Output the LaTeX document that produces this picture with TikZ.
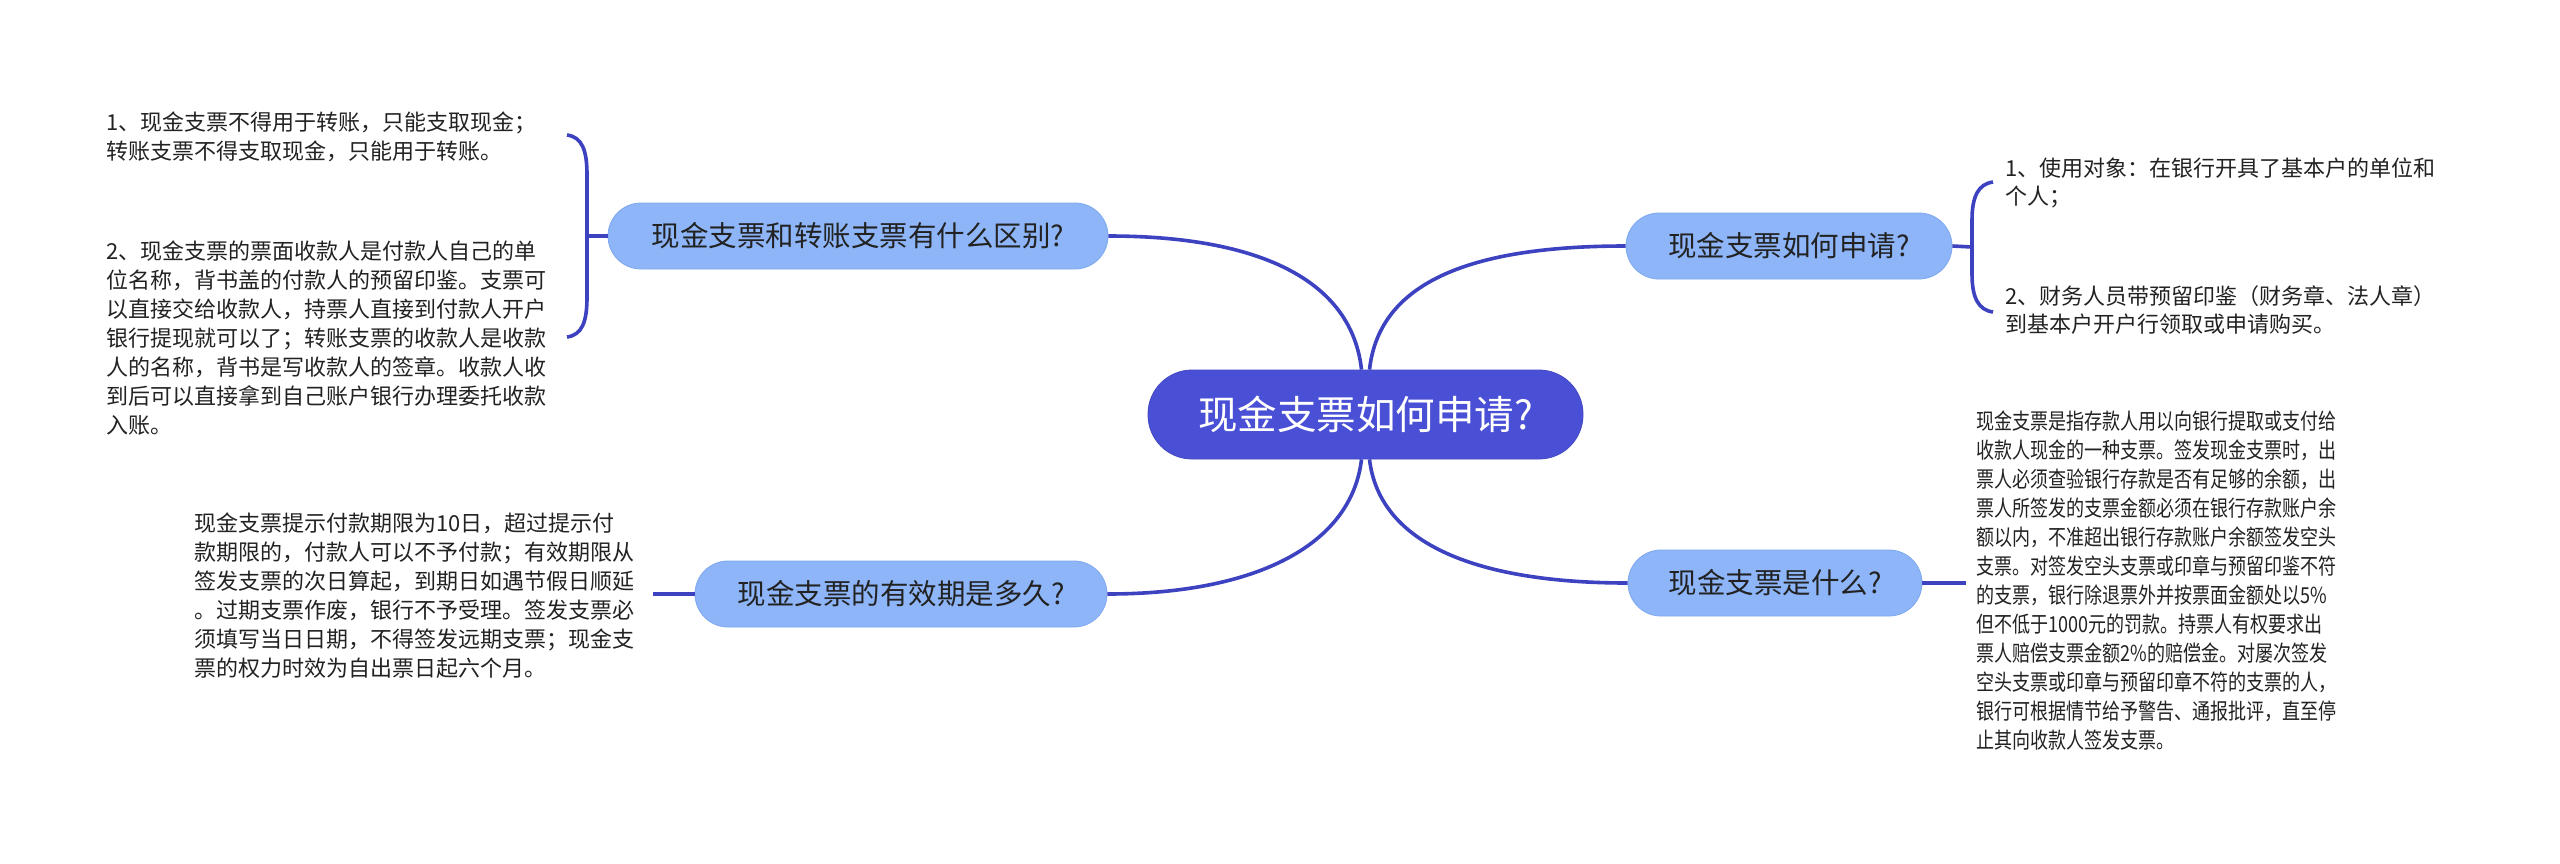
\documentclass[tikz,border=0pt]{standalone}
\usepackage{fontspec}
\setmainfont{Noto Sans CJK SC}
\newfontfamily\cjkn[FakeStretch=0.82]{Noto Sans CJK SC}
\definecolor{rootfill}{HTML}{4A50D6}
\definecolor{subfill}{HTML}{8DB5F8}
\definecolor{subedge}{HTML}{7FA8F0}
\definecolor{linkc}{HTML}{3C42C0}
\definecolor{txt}{HTML}{222222}
\tikzset{
  rootnode/.style={fill=rootfill,draw=rootfill!90!black,line width=0.8pt,rounded corners=44pt,minimum height=89pt,inner sep=0pt,text=white,font=\fontsize{39.5}{44}\selectfont},
  subnode/.style={fill=subfill,draw=subedge,line width=0.8pt,rounded corners=33pt,minimum height=66pt,inner sep=0pt,text=txt,font=\fontsize{28.5}{34}\selectfont},
  leaf/.style={anchor=north west,align=left,inner sep=0pt,text=txt,font=\fontsize{22}{29}\selectfont},
  link/.style={draw=linkc,line width=3.6pt},
}
\begin{document}
\begin{tikzpicture}[x=1pt,y=-1pt]
\useasboundingbox[fill=white] (0,0) rectangle (2560,863);
% main nodes
\node[rootnode,minimum width=435pt] (c) at (1365.5,414.5) {现金支票如何申请?};
\node[subnode,minimum width=500pt] (lt) at (858,236) {现金支票和转账支票有什么区别?};
\node[subnode,minimum width=412pt] (lb) at (901,594) {现金支票的有效期是多久?};
\node[subnode,minimum width=326pt] (rt) at (1789,246) {现金支票如何申请?};
\node[subnode,minimum width=294pt] (rb) at (1775,583) {现金支票是什么?};
% curved links
\draw[link] ([xshift=-4]c.north) .. controls +(-10,-90) and +(150,0) .. (lt.east);
\draw[link] ([xshift=4]c.north) .. controls +(10,-90) and +(-150,0) .. (rt.west);
\draw[link] ([xshift=-4]c.south) .. controls +(-10,85) and +(150,0) .. (lb.east);
\draw[link] ([xshift=4]c.south) .. controls +(10,85) and +(-150,0) .. (rb.west);
% brackets and stubs
\coordinate (lbk) at (587,236);
\coordinate (rbk) at (1972,247);
\coordinate (lbx) at (653,594);
\coordinate (rbx) at (1966,583);
\draw[link] (567,135) .. controls (582,137) and (587,150) .. (587,175) -- (587,297) .. controls (587,322) and (582,335) .. (567,337);
\draw[link] (lt.west) -- (lbk);
\draw[link] (1993,182) .. controls (1978,184) and (1972,197) .. (1972,220) -- (1972,274) .. controls (1972,297) and (1978,310) .. (1993,312);
\draw[link] (rt.east) -- (rbk);
\draw[link] (lb.west) -- (lbx);
\draw[link] (rb.east) -- (rbx);
% leaf texts
\node[leaf] (t1) at (106,110) {\strut 1、现金支票不得用于转账，只能支取现金；\\转账支票不得支取现金，只能用于转账。};
\node[leaf] (t2) at (106,239) {\strut 2、现金支票的票面收款人是付款人自己的单\\位名称，背书盖的付款人的预留印鉴。支票可\\以直接交给收款人，持票人直接到付款人开户\\银行提现就可以了；转账支票的收款人是收款\\人的名称，背书是写收款人的签章。收款人收\\到后可以直接拿到自己账户银行办理委托收款\\入账。};
\node[leaf] (t3) at (194,511) {\strut 现金支票提示付款期限为10日，超过提示付\\款期限的，付款人可以不予付款；有效期限从\\签发支票的次日算起，到期日如遇节假日顺延\\。过期支票作废，银行不予受理。签发支票必\\须填写当日日期，不得签发远期支票；现金支\\票的权力时效为自出票日起六个月。};
\node[leaf,font=\fontsize{22}{28}\selectfont] (t4) at (2005,157) {\strut 1、使用对象：在银行开具了基本户的单位和\\个人；};
\node[leaf,font=\fontsize{22}{28}\selectfont] (t5) at (2005,285) {\strut 2、财务人员带预留印鉴（财务章、法人章）\\到基本户开户行领取或申请购买。};
\node[leaf,font=\cjkn\fontsize{22}{29}\selectfont] (t6) at (1976,409) {\strut 现金支票是指存款人用以向银行提取或支付给\\收款人现金的一种支票。签发现金支票时，出\\票人必须查验银行存款是否有足够的余额，出\\票人所签发的支票金额必须在银行存款账户余\\额以内，不准超出银行存款账户余额签发空头\\支票。对签发空头支票或印章与预留印鉴不符\\的支票，银行除退票外并按票面金额处以5\%\\但不低于1000元的罚款。持票人有权要求出\\票人赔偿支票金额2\%的赔偿金。对屡次签发\\空头支票或印章与预留印章不符的支票的人，\\银行可根据情节给予警告、通报批评，直至停\\止其向收款人签发支票。};
\end{tikzpicture}
\end{document}
